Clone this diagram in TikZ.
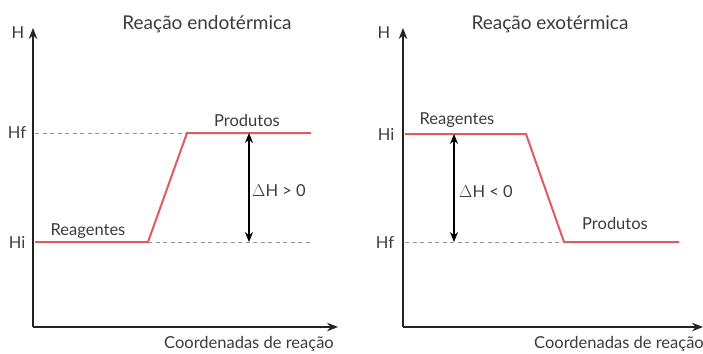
\documentclass[tikz,border=0pt]{standalone}
\usepackage{fontspec}
\setmainfont{Lato}
\usetikzlibrary{arrows.meta}
\definecolor{curve}{RGB}{222,92,92}
\definecolor{axisc}{RGB}{35,35,35}
\definecolor{dashc}{RGB}{150,150,150}
\definecolor{txt}{RGB}{60,60,60}
\tikzset{
  axisline/.style={draw=axisc, line width=1.1pt, -{Stealth[length=11pt,width=8.5pt]}},
  curveline/.style={draw=curve, line width=2pt, line join=miter},
  guide/.style={draw=dashc, line width=0.9pt, dash pattern=on 4pt off 3.5pt},
  dharrow/.style={draw=black, line width=1.1pt, {Stealth[length=10pt,width=8pt]}-{Stealth[length=10pt,width=8pt]}},
  lbl/.style={inner sep=0pt, font=\fontsize{16.5}{18}\selectfont, text=txt},
  ttl/.style={inner sep=0pt, font=\fontsize{19}{21}\selectfont, text=txt},
}
\begin{document}
\begin{tikzpicture}[x=1pt,y=-1pt]
\useasboundingbox[fill=white] (0,0) rectangle (703,353);
% ---------- left chart ----------
\coordinate (LO) at (33,327);
\coordinate (LT) at (33,28);
\coordinate (LX) at (338,327);
\coordinate (LA) at (35,242);
\coordinate (LB) at (148,242);
\coordinate (LC) at (187,133);
\coordinate (LD) at (311,133);
\coordinate (LHf) at (35,133);
\coordinate (LHi) at (311,242);
\coordinate (LU) at (249,133);
\coordinate (LW) at (249,242);
\draw[guide] (LHf) -- (LC);
\draw[guide] (LB) -- (LHi);
\draw[axisline] (LO) -- (LT);
\draw[axisline] (LO) -- (LX);
\draw[curveline] (LA) -- (LB) -- (LC) -- (LD);
\draw[dharrow] (LU) -- (LW);
\node[ttl] (t1) at (207,24) {Reação endotérmica};
\node[lbl] (h1) at (18,33) {H};
\node[lbl] (hf1) at (17,133) {Hf};
\node[lbl] (hi1) at (17,242) {Hi};
\node[lbl] (p1) at (247,120) {Produtos};
\node[lbl] (r1) at (88,231) {Reagentes};
\node[lbl] (d1) at (279,191) {$\Delta$H > 0};
\node[lbl, anchor=east] (c1) at (334,344) {Coordenadas de reação};
% ---------- right chart ----------
\coordinate (RO) at (403,327);
\coordinate (RT) at (403,28);
\coordinate (RX) at (703,327);
\coordinate (RA) at (405,134);
\coordinate (RB) at (526,134);
\coordinate (RC) at (564,242);
\coordinate (RD) at (679,242);
\coordinate (RHf) at (405,242);
\coordinate (RU) at (454,134);
\coordinate (RW) at (454,242);
\draw[guide] (RHf) -- (RC);
\draw[axisline] (RO) -- (RT);
\draw[axisline] (RO) -- (RX);
\draw[curveline] (RA) -- (RB) -- (RC) -- (RD);
\draw[dharrow] (RU) -- (RW);
\node[ttl] (t2) at (550,24) {Reação exotérmica};
\node[lbl] (h2) at (384,33) {H};
\node[lbl] (hi2) at (386,134) {Hi};
\node[lbl] (hf2) at (385,242) {Hf};
\node[lbl] (r2) at (457,120) {Reagentes};
\node[lbl] (p2) at (615,223) {Produtos};
\node[lbl] (d2) at (486,192) {$\Delta$H < 0};
\node[lbl, anchor=east] (c2) at (704,344) {Coordenadas de reação};
\end{tikzpicture}
\end{document}
